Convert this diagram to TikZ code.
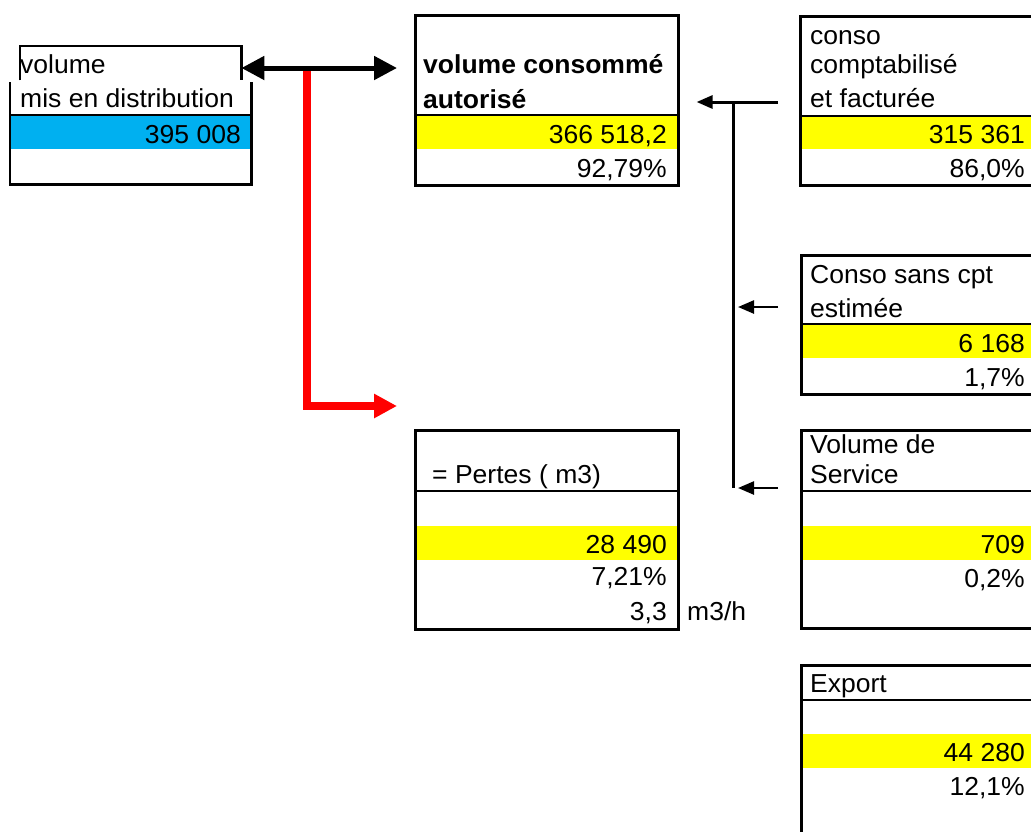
\documentclass[tikz,border=0pt]{standalone}
\usepackage{fontspec}
\setmainfont{Liberation Sans}[FakeStretch=1.02]
\usetikzlibrary{arrows.meta}
\definecolor{cellblue}{HTML}{00B0F0}
\definecolor{cellyellow}{HTML}{FFFF00}
\definecolor{flowred}{HTML}{FF0000}
\tikzset{
  frame/.style={line width=2.6pt},
  cell/.style={draw, line width=2.6pt, anchor=north west, inner sep=0pt},
  lbl/.style={anchor=base west, inner sep=0pt, font=\fontsize{26pt}{30pt}\selectfont},
  val/.style={anchor=base east, inner sep=0pt, font=\fontsize{26pt}{30pt}\selectfont},
  bigtip/.tip={Triangle[length=23pt,width=23pt]},
  smalltip/.tip={Triangle[length=16pt,width=13pt]}
}
\begin{document}
\begin{tikzpicture}[x=1pt,y=-1pt]
\useasboundingbox (0,0) rectangle (1031,831);
\clip (0,0) rectangle (1031,831);
\fill[cellblue] (10,115) rectangle (251,149);
\fill[cellyellow] (414,115) rectangle (677,149);
\fill[cellyellow] (799,116) rectangle (1060,149);
\fill[cellyellow] (800,324) rectangle (1060,358);
\fill[cellyellow] (800,526) rectangle (1060,560);
\fill[cellyellow] (800,734) rectangle (1060,768);
\fill[cellyellow] (414,526) rectangle (677,560);

\node[anchor=north west, inner sep=0pt, minimum width=221pt, minimum height=34pt] (volhead) at (20,46) {};
\node[anchor=north west, inner sep=0pt, minimum width=241pt, minimum height=102pt] (vol) at (10,82) {};
\draw[frame] (volhead.south west) -- (volhead.north west) -- (volhead.north east) -- (volhead.south east);
\draw[frame] (vol.north west) -- (vol.south west) -- (vol.south east) -- (vol.north east);
\draw[frame] (10,115) -- (251,115);

\node[cell, minimum width=263pt, minimum height=170pt] (vca) at (414,14) {};
\draw[frame] (414,115) -- (677,115);
\node[cell, minimum width=261pt, minimum height=169pt] (conso) at (799,15) {};
\draw[frame] (799,116) -- (1060,116);
\node[cell, minimum width=260pt, minimum height=139pt] (cse) at (800,254) {};
\draw[frame] (800,324) -- (1060,324);
\node[cell, minimum width=260pt, minimum height=198pt] (vds) at (800,429) {};
\draw[frame] (800,491) -- (1060,491);
\node[cell, minimum width=260pt, minimum height=200pt] (export) at (800,664) {};
\draw[frame] (800,700) -- (1060,700);
\node[cell, minimum width=263pt, minimum height=199pt] (pertes) at (414,429) {};
\draw[frame] (414,491) -- (677,491);

\coordinate (split) at (307,68);
\coordinate (bustop) at (733,102);
\coordinate (busbot) at (733,488);
\coordinate (feedtop) at (778,102);
\coordinate (feedcse) at (778,307);
\coordinate (feedvds) at (778,488);

\draw[flowred, line width=8pt, -bigtip] (split) |- ([xshift=-17pt,yshift=23pt]pertes.north west);
\draw[line width=5pt, bigtip-bigtip, shorten >=17pt] (volhead.east |- split) -- (vca.west |- split);
\draw[line width=3pt] (bustop) -- (busbot);
\draw[line width=3pt, -smalltip, shorten >=17pt] (feedtop) -- (vca.east |- feedtop);
\draw[line width=2.5pt, -smalltip, shorten >=5pt] (feedcse) -- (bustop |- feedcse);
\draw[line width=2.5pt, -smalltip, shorten >=5pt] (feedvds) -- (bustop |- feedvds);

\node[lbl] (vol1) at (20,73) {volume};
\node[lbl] (vol2) at (20,107) {mis en distribution};
\node[val] (volv) at (241,143) {395 008};

\node[lbl] (vca1) at (423,73) {\textbf{volume consommé}};
\node[lbl] (vca2) at (423,108) {\textbf{autorisé}};
\node[val] (vcav) at (667,143) {366 518,2};
\node[val] (vcap) at (667,177) {92,79\%};

\node[lbl] (conso1) at (810,44) {conso};
\node[lbl] (conso2) at (810,73) {comptabilisé};
\node[lbl] (conso3) at (810,107) {et facturée};
\node[val] (consov) at (1025,143) {315 361};
\node[val] (consop) at (1025,177) {86,0\%};

\node[lbl] (cse1) at (810,283) {Conso sans cpt};
\node[lbl] (cse2) at (810,317) {estimée};
\node[val] (csev) at (1025,352) {6 168};
\node[val] (csep) at (1025,386) {1,7\%};

\node[lbl] (vds1) at (810,453) {Volume de};
\node[lbl] (vds2) at (810,483) {Service};
\node[val] (vdsv) at (1025,553) {709};
\node[val] (vdsp) at (1025,587) {0,2\%};

\node[lbl] (export1) at (810,692) {Export};
\node[val] (exportv) at (1025,761) {44 280};
\node[val] (exportp) at (1025,795) {12,1\%};

\node[lbl] (pertes1) at (432,483) {= Pertes ( m3)};
\node[val] (pertesv) at (667,553) {28 490};
\node[val] (pertesp) at (667,585) {7,21\%};
\node[val] (pertesh) at (667,620) {3,3};
\node[lbl] (pertesu) at (687,620) {m3/h};
\end{tikzpicture}
\end{document}
